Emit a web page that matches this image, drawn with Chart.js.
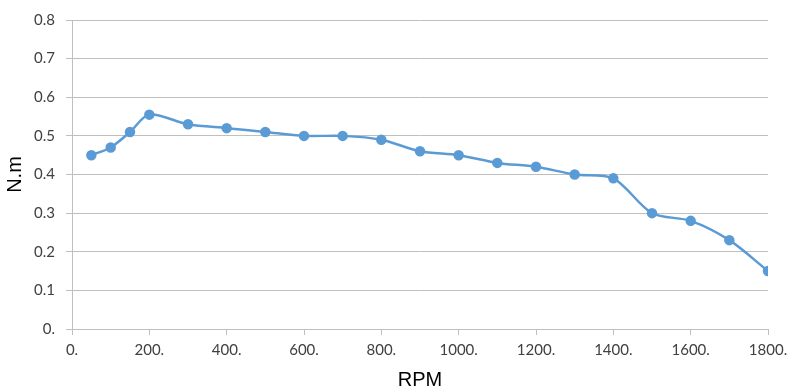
<!DOCTYPE html>
<html>
<head>
<meta charset="utf-8">
<script src="https://cdn.jsdelivr.net/npm/chart.js@4/dist/chart.umd.min.js"></script>
<style>
html,body{margin:0;padding:0;background:#fff;}
#wrap{width:800px;height:392px;position:relative;}
</style>
</head>
<body>
<div id="wrap"><canvas id="c" width="800" height="392"></canvas></div>
<script>
const rpm = [50, 100, 150, 200, 300, 400, 500, 600, 700, 800, 900, 1000, 1100, 1200, 1300, 1400, 1500, 1600, 1700, 1800];
const torque = [0.45, 0.47, 0.51, 0.555, 0.53, 0.52, 0.51, 0.50, 0.50, 0.49, 0.46, 0.45, 0.43, 0.42, 0.40, 0.39, 0.30, 0.28, 0.23, 0.15];
const xTitle = 'RPM';
const yTitle = 'N.m';

const points = rpm.map((x, i) => ({x: x, y: torque[i]}));
const blue = '#5B9BD5';
const gridColor = '#BFBFBF';
const tickFont = {family: 'Lato', size: 15};

new Chart(document.getElementById('c'), {
  type: 'scatter',
  data: {
    datasets: [{
      data: points,
      showLine: true,
      tension: 0.3,
      borderColor: blue,
      backgroundColor: blue,
      borderWidth: 2.5,
      pointRadius: 4,
      pointBackgroundColor: blue,
      pointBorderColor: blue
    }]
  },
  options: {
    responsive: false,
    animation: false,
    layout: {padding: {left: 0, right: 32, top: 17, bottom: 0}},
    plugins: {legend: {display: false}, tooltip: {enabled: false}},
    scales: {
      x: {
        type: 'linear',
        min: 0, max: 1800,
        afterFit: s => { s.height = 63; },
        ticks: {stepSize: 200, color: '#404040', font: tickFont, padding: 6,
          callback: v => v + '.'},
        grid: {drawOnChartArea: false, drawTicks: true, tickLength: 6, color: gridColor},
        border: {color: gridColor},
        title: {display: true, text: xTitle, color: '#000',
          font: {family: 'Liberation Sans', size: 20}, padding: {top: 0, bottom: 0}}
      },
      y: {
        min: 0, max: 0.8,
        afterFit: s => { s.width = 72; },
        ticks: {stepSize: 0.1, color: '#404040', font: tickFont, padding: 11,
          callback: v => v === 0 ? '0.' : v.toFixed(1)},
        grid: {color: gridColor, tickLength: 6},
        border: {color: gridColor},
        title: {display: true, text: yTitle, color: '#000',
          font: {family: 'Liberation Sans', size: 20}, padding: {top: 3, bottom: 0}}
      }
    }
  }
});
</script>
</body>
</html>
